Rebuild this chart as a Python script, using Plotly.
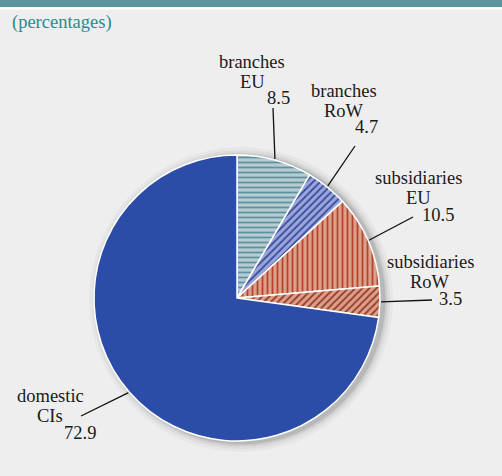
import math
import plotly.graph_objects as go

# ---- data ----
categories = ["branches EU", "branches RoW", "subsidiaries EU", "subsidiaries RoW", "domestic CIs"]
name_lines = [["branches", "EU"], ["branches", "RoW"], ["subsidiaries", "EU"], ["subsidiaries", "RoW"], ["domestic", "CIs"]]
values = [8.5, 4.7, 10.5, 3.5, 72.9]
value_labels = ["8.5", "4.7", "10.5", "3.5", "72.9"]

# ---- styles ----
bg_colors = ["#B6CCD2", "#9AA6DC", "#D9A18A", "#D9A18A", "#2B4DA8"]
fg_colors = ["#5E929E", "#3A4C9C", "#B8402C", "#9A3A28", "#2B4DA8"]
shapes_pat = ["-", "/", "|", "/", ""]

W, H = 502, 476
CX, CY, R = 237, 298, 143

# label layout (pixel positions): name centre, value centre, leader outer end
name_pos = [(252, 62), (344, 91), (418, 178), (430, 262), (50, 396)]
val_pos = [(278, 98), (366, 127), (438, 215), (450, 299), (80, 433)]
line_out = [(273, 108), (355, 146), (413, 217), (432, 300), (81, 416)]
line_gap = 20

fig = go.Figure()

# shadow behind pie
shadow_shapes = []
for i, (dr, op) in enumerate([(9, 0.03), (6, 0.045), (3.5, 0.065), (1.5, 0.1)]):
    shadow_shapes.append(dict(type="circle", xref="x", yref="y",
                              x0=CX - R - dr + 4, x1=CX + R + dr + 4,
                              y0=CY - R - dr + 1, y1=CY + R + dr + 2,
                              fillcolor=f"rgba(0,0,0,{op})", line=dict(width=0), layer="below"))

fig.add_trace(go.Pie(
    labels=categories, values=values, sort=False, direction="clockwise", rotation=0,
    textinfo="none", hoverinfo="label+value",
    marker=dict(colors=bg_colors, line=dict(color="white", width=1.5),
                pattern=dict(shape=shapes_pat, fgcolor=fg_colors, bgcolor=bg_colors,
                             size=5, solidity=0.35, fillmode="replace")),
    domain=dict(x=[(CX - R) / W, (CX + R) / W], y=[(H - CY - R) / H, (H - CY + R) / H]),
    showlegend=False,
))

# leader lines computed from data angles
total = sum(values)
cum = 0
for i, v in enumerate(values):
    mid = (cum + v / 2) / total * 2 * math.pi
    cum += v
    x0 = CX + (R + 1) * math.sin(mid)
    y0 = CY - (R + 1) * math.cos(mid)
    x1, y1 = line_out[i]
    fig.add_trace(go.Scatter(x=[x0, x1], y=[y0, y1], mode="lines",
                             line=dict(color="#111111", width=1.3),
                             hoverinfo="skip", showlegend=False, xaxis="x", yaxis="y"))

annotations = []
font = dict(family="Liberation Serif", size=18.5, color="#1A1A1A")
for i in range(len(values)):
    nx, ny = name_pos[i]
    for j, t in enumerate(name_lines[i]):
        annotations.append(dict(x=nx, y=ny + j * line_gap, xref="x", yref="y", text=t,
                                showarrow=False, font=font, xanchor="center", yanchor="middle"))
    vx, vy = val_pos[i]
    annotations.append(dict(x=vx, y=vy, xref="x", yref="y", text=value_labels[i],
                            showarrow=False, font=font, xanchor="center", yanchor="middle"))

annotations.append(dict(x=10, y=22, xref="x", yref="y", text="(percentages)", showarrow=False,
                        font=dict(family="Liberation Serif", size=18.5, color="#2A8A8E"),
                        xanchor="left", yanchor="middle"))

header = [
    dict(type="rect", xref="x", yref="y", x0=0, x1=W, y0=0, y1=7,
         fillcolor="#5B969C", line=dict(width=0), layer="below"),
    dict(type="rect", xref="x", yref="y", x0=0, x1=W, y0=7, y1=9.5,
         fillcolor="#FFFFFF", line=dict(width=0), layer="below"),
]

fig.update_layout(
    width=W, height=H,
    margin=dict(l=0, r=0, t=0, b=0),
    paper_bgcolor="#EEEEEE", plot_bgcolor="rgba(0,0,0,0)",
    xaxis=dict(range=[0, W], visible=False, fixedrange=True, domain=[0, 1]),
    yaxis=dict(range=[H, 0], visible=False, fixedrange=True, domain=[0, 1]),
    shapes=header + shadow_shapes,
    annotations=annotations,
)

fig.write_html("out.html", config={"displayModeBar": False},
               post_script="document.body.style.margin='0';document.body.style.padding='0';")
